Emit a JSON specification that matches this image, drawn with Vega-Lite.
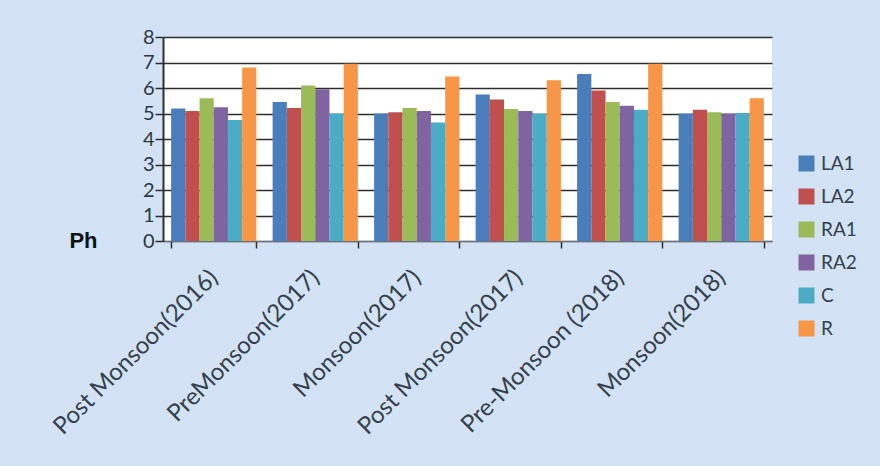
{
  "$schema": "https://vega.github.io/schema/vega-lite/v6.json",
  "autosize": {"type": "none"},
  "width": 609,
  "height": 204,
  "padding": {"left": 163, "top": 37, "right": 108, "bottom": 225},
  "background": "#d3e3f5",
  "config": {
    "view": {"fill": "white", "stroke": null},
    "font": "Lato"
  },
  "data": {
    "values": [
      {"period": "Post Monsoon(2016)", "site": "LA1", "ph": 5.2},
      {"period": "Post Monsoon(2016)", "site": "LA2", "ph": 5.1},
      {"period": "Post Monsoon(2016)", "site": "RA1", "ph": 5.6},
      {"period": "Post Monsoon(2016)", "site": "RA2", "ph": 5.25},
      {"period": "Post Monsoon(2016)", "site": "C", "ph": 4.75},
      {"period": "Post Monsoon(2016)", "site": "R", "ph": 6.8},
      {"period": "PreMonsoon(2017)", "site": "LA1", "ph": 5.45},
      {"period": "PreMonsoon(2017)", "site": "LA2", "ph": 5.22},
      {"period": "PreMonsoon(2017)", "site": "RA1", "ph": 6.1},
      {"period": "PreMonsoon(2017)", "site": "RA2", "ph": 5.95},
      {"period": "PreMonsoon(2017)", "site": "C", "ph": 5.0},
      {"period": "PreMonsoon(2017)", "site": "R", "ph": 6.95},
      {"period": "Monsoon(2017)", "site": "LA1", "ph": 5.0},
      {"period": "Monsoon(2017)", "site": "LA2", "ph": 5.05},
      {"period": "Monsoon(2017)", "site": "RA1", "ph": 5.22},
      {"period": "Monsoon(2017)", "site": "RA2", "ph": 5.1},
      {"period": "Monsoon(2017)", "site": "C", "ph": 4.65},
      {"period": "Monsoon(2017)", "site": "R", "ph": 6.45},
      {"period": "Post Monsoon(2017)", "site": "LA1", "ph": 5.75},
      {"period": "Post Monsoon(2017)", "site": "LA2", "ph": 5.55},
      {"period": "Post Monsoon(2017)", "site": "RA1", "ph": 5.18},
      {"period": "Post Monsoon(2017)", "site": "RA2", "ph": 5.1},
      {"period": "Post Monsoon(2017)", "site": "C", "ph": 5.0},
      {"period": "Post Monsoon(2017)", "site": "R", "ph": 6.3},
      {"period": "Pre-Monsoon (2018)", "site": "LA1", "ph": 6.55},
      {"period": "Pre-Monsoon (2018)", "site": "LA2", "ph": 5.9},
      {"period": "Pre-Monsoon (2018)", "site": "RA1", "ph": 5.45},
      {"period": "Pre-Monsoon (2018)", "site": "RA2", "ph": 5.3},
      {"period": "Pre-Monsoon (2018)", "site": "C", "ph": 5.15},
      {"period": "Pre-Monsoon (2018)", "site": "R", "ph": 6.95},
      {"period": "Monsoon(2018)", "site": "LA1", "ph": 5.0},
      {"period": "Monsoon(2018)", "site": "LA2", "ph": 5.15},
      {"period": "Monsoon(2018)", "site": "RA1", "ph": 5.05},
      {"period": "Monsoon(2018)", "site": "RA2", "ph": 5.0},
      {"period": "Monsoon(2018)", "site": "C", "ph": 5.02},
      {"period": "Monsoon(2018)", "site": "R", "ph": 5.6}
    ]
  },
  "mark": {"type": "bar"},
  "encoding": {
    "x": {
      "field": "period",
      "type": "nominal",
      "sort": ["Post Monsoon(2016)", "PreMonsoon(2017)", "Monsoon(2017)", "Post Monsoon(2017)", "Pre-Monsoon (2018)", "Monsoon(2018)"],
      "scale": {"paddingInner": 0.16, "paddingOuter": 0.08},
      "axis": {
        "title": null,
        "labelAngle": -45,
        "labelAlign": "right",
        "labelBaseline": "middle",
        "labelFontSize": 24,
        "labelColor": "#34404d",
        "labelPadding": 26,
        "labelLimit": 0,
        "labelOverlap": false,
        "tickBand": "extent",
        "tickSize": 7,
        "tickColor": "#2e2e2e",
        "tickWidth": 1.5,
        "domainColor": "#6a7480",
        "grid": false
      }
    },
    "xOffset": {
      "field": "site",
      "sort": ["LA1", "LA2", "RA1", "RA2", "C", "R"]
    },
    "y": {
      "field": "ph",
      "type": "quantitative",
      "scale": {"domain": [0, 8]},
      "axis": {
        "values": [0, 1, 2, 3, 4, 5, 6, 7, 8],
        "grid": true,
        "gridColor": "#2e2e2e",
        "gridWidth": 1.5,
        "domainColor": "#2e2e2e",
        "domainWidth": 2,
        "tickColor": "#2e2e2e",
        "tickWidth": 1.5,
        "tickSize": 8,
        "labelFontSize": 20,
        "labelColor": "#2c3744",
        "labelPadding": 1,
        "title": "Ph",
        "titleAngle": 0,
        "titleX": -80,
        "titleY": 203,
        "titleAlign": "center",
        "titleBaseline": "middle",
        "titleFont": "Liberation Sans",
        "titleFontSize": 22,
        "titleFontWeight": "bold",
        "titleColor": "#111111"
      }
    },
    "color": {
      "field": "site",
      "type": "nominal",
      "scale": {
        "domain": ["LA1", "LA2", "RA1", "RA2", "C", "R"],
        "range": ["#4a7ebb", "#c0504d", "#9bbb59", "#8064a2", "#4bacc6", "#f79646"]
      },
      "legend": {
        "title": null,
        "orient": "none",
        "legendX": 634,
        "legendY": 117,
        "symbolType": "square",
        "symbolSize": 256,
        "symbolStrokeWidth": 0,
        "labelFontSize": 19,
        "labelColor": "#34404d",
        "labelOffset": 5,
        "rowPadding": 13
      }
    }
  }
}
